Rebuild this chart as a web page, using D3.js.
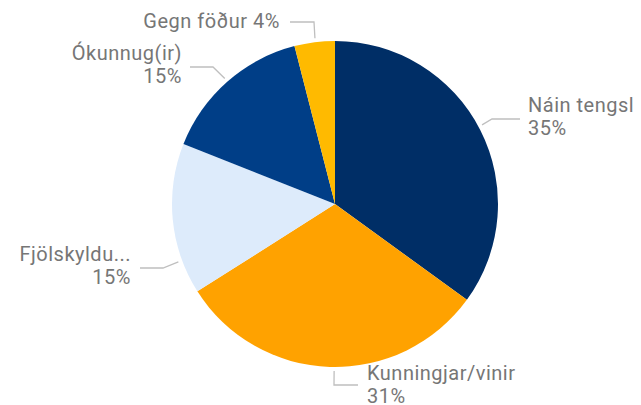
<!DOCTYPE html>
<html>
<head>
<meta charset="utf-8">
<script src="https://cdn.jsdelivr.net/npm/d3@7"></script>
<style>
  html, body { margin: 0; padding: 0; background: #fff; }
  svg { display: block; }
  text { font-family: Roboto, "Noto Sans", sans-serif; }
</style>
</head>
<body>
<svg id="chart" width="641" height="405"></svg>
<script>
// Category shares (percent), clockwise from 12 o'clock
const categories = ["Náin tengsl", "Kunningjar/vinir", "Fjölskyldu...", "Ókunnug(ir)", "Gegn föður"];
const shares = [35, 31, 15, 15, 4];
const colors = ["#002E66", "#FFA200", "#DDEBFB", "#003E87", "#FFBA00"];

// Label layout: leader anchor angle (deg), leader path offsets, text position/anchor
const labelLayout = [
  { angle: 61.7, elbow: [492, 119], end: [520, 119], x: 528, y: 112, anchor: "start", oneLine: false },
  { angle: 180.3, elbow: [334, 385], end: [358, 385], x: 367, y: 380, anchor: "start", oneLine: false },
  { angle: 249.7, elbow: [163, 268], end: [140, 268], x: 131, y: 261, anchor: "end", oneLine: false },
  { angle: 318.7, elbow: [213, 67], end: [190, 67], x: 182, y: 60, anchor: "end", oneLine: false },
  { angle: 353.1, elbow: [314, 22], end: [290, 22], x: 280, y: 28, anchor: "end", oneLine: true }
];

const svg = d3.select("#chart");
const cx = 335, cy = 204, radius = 163;

const data = categories.map((c, i) => ({ name: c, value: shares[i], color: colors[i], layout: labelLayout[i] }));

const pie = d3.pie().value(d => d.value).sort(null);
const arc = d3.arc().innerRadius(0).outerRadius(radius);
const arcs = pie(data);

const g = svg.append("g").attr("transform", `translate(${cx},${cy})`);

g.selectAll("path.slice")
  .data(arcs)
  .join("path")
  .attr("class", "slice")
  .attr("d", arc)
  .attr("fill", d => d.data.color);

// Leader lines
const leaderR = radius + 4;
svg.selectAll("path.leader")
  .data(arcs)
  .join("path")
  .attr("class", "leader")
  .attr("fill", "none")
  .attr("stroke", "#BFBFBF")
  .attr("stroke-width", 1.3)
  .attr("d", d => {
    const L = d.data.layout;
    const p = d3.pointRadial(L.angle * Math.PI / 180, leaderR);
    return d3.line()([[cx + p[0], cy + p[1]], L.elbow, L.end]);
  });

// Labels
const labels = svg.selectAll("text.label")
  .data(arcs)
  .join("text")
  .attr("class", "label")
  .attr("font-size", 20)
  .attr("letter-spacing", 0.5)
  .attr("fill", "#767676")
  .attr("text-anchor", d => d.data.layout.anchor)
  .attr("x", d => d.data.layout.x)
  .attr("y", d => d.data.layout.y);

labels.each(function(d) {
  const t = d3.select(this);
  const L = d.data.layout;
  const pct = Math.round((d.endAngle - d.startAngle) / (2 * Math.PI) * 100) + "%";
  if (L.oneLine) {
    t.text(d.data.name + " " + pct);
  } else {
    t.append("tspan").attr("x", L.x).text(d.data.name);
    t.append("tspan").attr("x", L.x).attr("dy", 23).text(pct);
  }
});
</script>
</body>
</html>
